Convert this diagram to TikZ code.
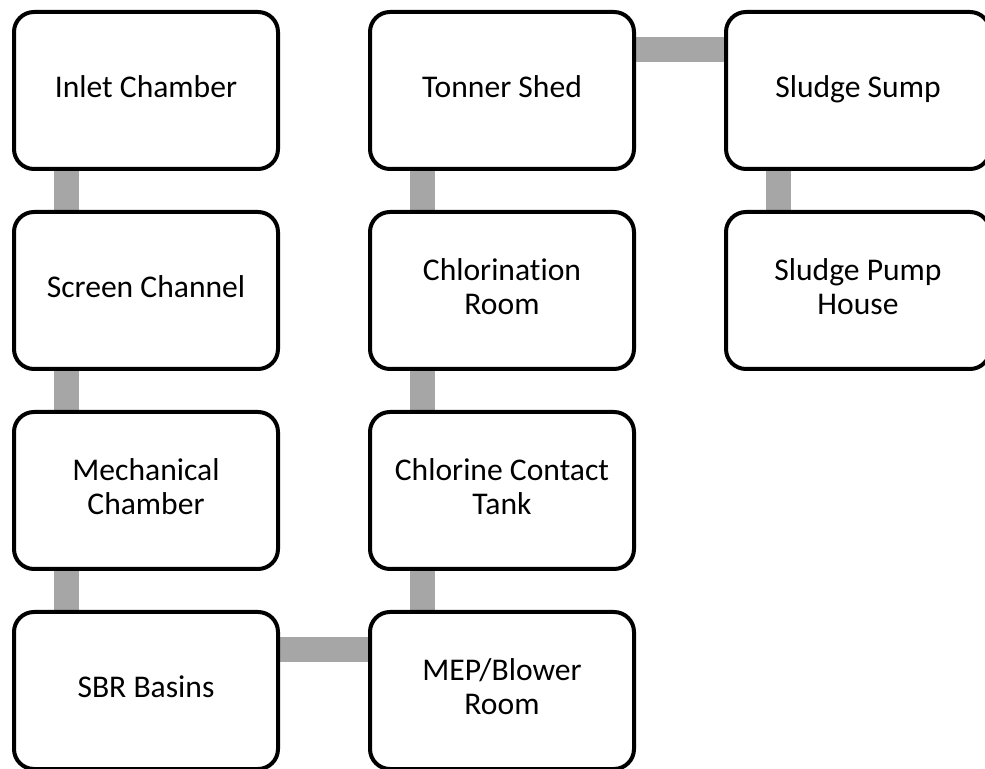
\documentclass[tikz,border=0pt]{standalone}
\usepackage{fontspec}
\setmainfont[Ligatures=NoCommon]{Carlito}
\usetikzlibrary{backgrounds}
\definecolor{tubo}{HTML}{A6A6A6}
\newcommand\roomstrut{\rule[-3.5pt]{0pt}{12.2pt}}
\tikzset{
  room/.style={draw=black, fill=white, line width=2pt, rounded corners=10pt,
               minimum width=132pt, minimum height=78.5pt, inner sep=2pt,
               align=center, font=\fontsize{15.8}{17}\selectfont,
               execute at begin node=\roomstrut, execute at end node=\roomstrut},
  pipe/.style={draw=tubo, line width=12.5pt},
}
\begin{document}
\begin{tikzpicture}[x=0.5pt, y=-0.5pt]
  \useasboundingbox (0,0) rectangle (985,769);
  \clip (0,0) rectangle (985,769);
  % rooms, placed by column and row
  \foreach \n/\t/\c/\r in {inlet/Inlet Chamber/0/0, screen/Screen Channel/0/1,
      mech/{Mechanical\\Chamber}/0/2, sbr/SBR Basins/0/3,
      tonner/Tonner Shed/1/0, chlroom/{Chlorination\\Room}/1/1,
      contact/{Chlorine Contact\\Tank}/1/2, mep/{MEP/Blower\\Room}/1/3,
      sump/Sludge Sump/2/0, pump/{Sludge Pump\\House}/2/1} {
    \node[room] (\n) at (146+356*\c, 90.5+200*\r) {\t};
  }
  % links behind the rooms
  \begin{scope}[on background layer]
    \foreach \a/\b in {inlet/screen, screen/mech, mech/sbr, tonner/chlroom,
        chlroom/contact, contact/mep, sump/pump}
      \draw[pipe] ([xshift=-40pt]\a.south) -- ([xshift=-40pt]\b.north);
    \draw[pipe] ([yshift=20.5pt]sbr.east) -- ([yshift=20.5pt]mep.west);
    \draw[pipe] ([yshift=20.5pt]tonner.east) -- ([yshift=20.5pt]sump.west);
  \end{scope}
\end{tikzpicture}
\end{document}
